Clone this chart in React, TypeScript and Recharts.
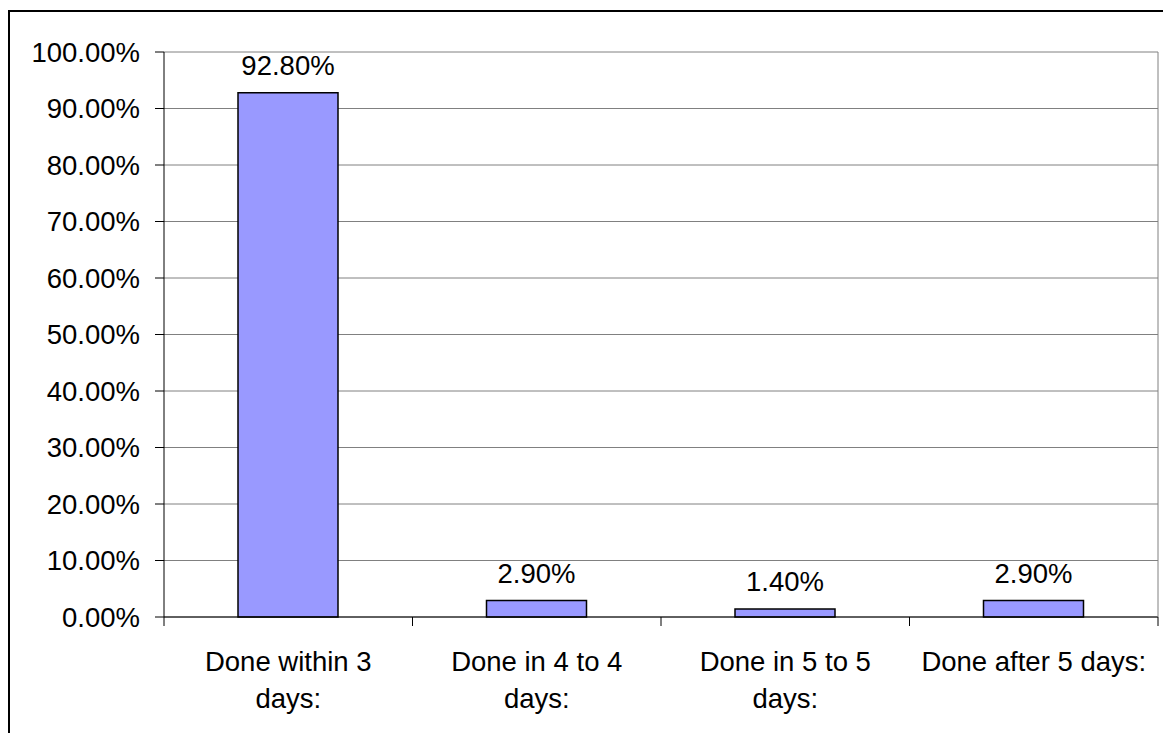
import { BarChart, Bar, XAxis, YAxis, CartesianGrid, LabelList } from "recharts";

const categories = [
  "Done within 3 days:",
  "Done in 4 to 4 days:",
  "Done in 5 to 5 days:",
  "Done after 5 days:",
];
const shares = [92.8, 2.9, 1.4, 2.9];
const yTicks = [0, 10, 20, 30, 40, 50, 60, 70, 80, 90, 100];

const data = categories.map((name, i) => ({ name, share: shares[i] }));

const FONT = "'Liberation Sans', Arial, Helvetica, sans-serif";
const FONT_SIZE = 27.5;
const pct = (v: number) => `${Number(v).toFixed(2)}%`;

let ctx: CanvasRenderingContext2D | null = null;
function textWidth(s: string) {
  if (!ctx) ctx = document.createElement("canvas").getContext("2d");
  if (!ctx) return s.length * FONT_SIZE * 0.5;
  ctx.font = `${FONT_SIZE}px ${FONT}`;
  return ctx.measureText(s).width;
}

// greedy word wrap, like the spreadsheet does for axis labels
function wrap(s: string, max: number) {
  const lines: string[] = [];
  let cur = "";
  for (const w of s.split(" ")) {
    const next = cur ? `${cur} ${w}` : w;
    if (cur && textWidth(next) > max) {
      lines.push(cur);
      cur = w;
    } else {
      cur = next;
    }
  }
  if (cur) lines.push(cur);
  return lines;
}

// category label plus the tick marks that sit on the band edges
function CategoryTick(props: any) {
  const { x, y, payload, index, visibleTicksCount, width } = props;
  const count = visibleTicksCount || categories.length;
  const half = (width || 994) / count / 2;
  const last = index === count - 1;
  const lines = wrap(String(payload.value), 232);
  return (
    <g>
      <line x1={x - half} x2={x - half} y1={y} y2={y + 9} stroke="#000" />
      {last && <line x1={x + half} x2={x + half} y1={y} y2={y + 9} stroke="#000" />}
      <text
        x={x}
        y={y + 34}
        textAnchor="middle"
        fill="#000"
        fontSize={FONT_SIZE}
        fontFamily={FONT}
      >
        {lines.map((ln, i) => (
          <tspan key={i} x={x} dy={i === 0 ? "0.71em" : 37}>
            {ln}
          </tspan>
        ))}
      </text>
    </g>
  );
}

export default function App() {
  return (
    <div
      style={{
        position: "absolute",
        left: 8,
        top: 10,
        width: 1155,
        height: 723,
        boxSizing: "border-box",
        borderTop: "2px solid #000",
        borderLeft: "2px solid #000",
        background: "#fff",
      }}
    >
      <BarChart
        width={1153}
        height={721}
        data={data}
        margin={{ top: 40, right: 4, bottom: 16, left: 0 }}
      >
        <CartesianGrid vertical={false} stroke="#808080" />
        <XAxis
          dataKey="name"
          interval={0}
          height={100}
          tickSize={0}
          tickMargin={0}
          tickLine={false}
          axisLine={{ stroke: "#000" }}
          tick={<CategoryTick />}
        />
        <YAxis
          type="number"
          domain={[0, 100]}
          ticks={yTicks}
          interval={0}
          width={154}
          tickSize={9}
          tickMargin={15}
          tickFormatter={pct}
          axisLine={{ stroke: "#000" }}
          tickLine={{ stroke: "#000" }}
          tick={{ fill: "#000", fontSize: FONT_SIZE, fontFamily: FONT }}
        />
        <YAxis
          yAxisId="right"
          orientation="right"
          type="number"
          domain={[0, 100]}
          ticks={yTicks}
          width={1}
          tick={false}
          tickLine={false}
          axisLine={{ stroke: "#808080" }}
        />
        <Bar
          dataKey="share"
          fill="#9999FF"
          stroke="#000"
          strokeWidth={1.5}
          barSize={100}
          isAnimationActive={false}
        >
          <LabelList
            dataKey="share"
            position="top"
            offset={18}
            formatter={(v: any) => pct(v)}
            fill="#000"
            fontSize={FONT_SIZE}
            fontFamily={FONT}
          />
        </Bar>
      </BarChart>
    </div>
  );
}
